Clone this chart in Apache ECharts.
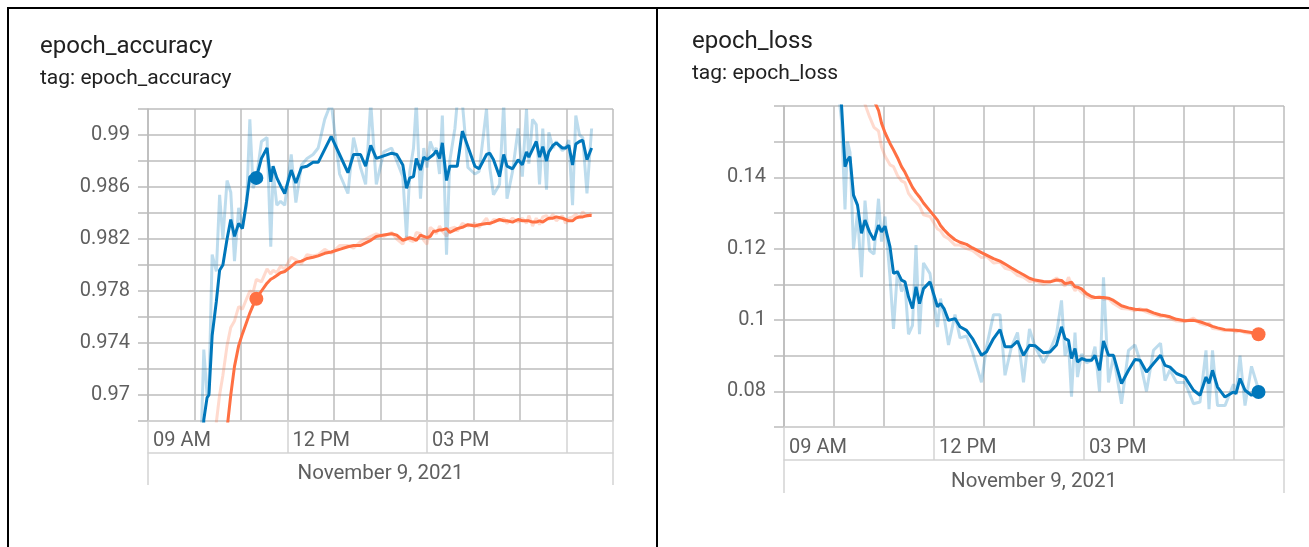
<!DOCTYPE html>
<html>
<head>
<meta charset="utf-8">
<script src="https://cdn.jsdelivr.net/npm/echarts@6/dist/echarts.min.js"></script>
<style>
  html, body { margin: 0; padding: 0; background: #fff; }
  #chart { width: 1309px; height: 547px; }
  .frame { position: absolute; background: #000; pointer-events: none; }
</style>
</head>
<body>
<div id="chart"></div>
<div class="frame" style="left:7px;top:7px;width:1302px;height:2px"></div>
<div class="frame" style="left:7px;top:7px;width:2px;height:540px"></div>
<div class="frame" style="left:656px;top:7px;width:2px;height:540px"></div>
<script>
// time of each epoch, hours of the day (Nov 9, 2021)
const accTimes = [10.09, 10.20, 10.27, 10.31, 10.38, 10.47, 10.54, 10.61, 10.70, 10.78,
  10.86, 10.95, 11.03, 11.12, 11.19, 11.26, 11.33, 11.44, 11.56, 11.64,
  11.69, 11.77, 11.85, 11.94, 12.08, 12.18, 12.30, 12.42, 12.55, 12.66,
  12.80, 12.94, 13.12, 13.30, 13.42, 13.57, 13.68, 13.79, 13.91, 14.07,
  14.24, 14.35, 14.48, 14.56, 14.63, 14.71, 14.77, 14.86, 14.93, 15.00,
  15.07, 15.14, 15.20, 15.27, 15.33, 15.42, 15.49, 15.60, 15.65, 15.76,
  15.88, 16.03, 16.12, 16.28, 16.35, 16.43, 16.56, 16.65, 16.72, 16.84,
  16.96, 17.05, 17.14, 17.19, 17.27, 17.35, 17.42, 17.49, 17.57, 17.62,
  17.71, 17.78, 17.91, 17.98, 18.05, 18.13, 18.20, 18.28, 18.35, 18.44, 18.54];

// validation run (blue)
const accValSmooth = [0.9550, 0.9681, 0.9698, 0.9700, 0.9746, 0.9772, 0.9796, 0.9800, 0.9820, 0.9835,
  0.9822, 0.9832, 0.9828, 0.9849, 0.9868, 0.9868, 0.9867, 0.9882, 0.9890, 0.9864,
  0.9876, 0.9867, 0.9861, 0.9855, 0.9873, 0.9863, 0.9875, 0.9876, 0.9879, 0.9879,
  0.9889, 0.9899, 0.9885, 0.9871, 0.9885, 0.9885, 0.9876, 0.9892, 0.9882, 0.9884,
  0.9886, 0.9885, 0.9877, 0.9859, 0.9867, 0.9868, 0.9882, 0.9873, 0.9883, 0.9881,
  0.9883, 0.9885, 0.9888, 0.9882, 0.9894, 0.9865, 0.9876, 0.9876, 0.9876, 0.9903,
  0.9891, 0.9876, 0.9874, 0.9885, 0.9886, 0.9881, 0.9868, 0.9885, 0.9876, 0.9874,
  0.9881, 0.9877, 0.9887, 0.9883, 0.9889, 0.9895, 0.9883, 0.9891, 0.9880, 0.9887,
  0.9892, 0.9894, 0.9890, 0.9890, 0.9892, 0.9877, 0.9893, 0.9895, 0.9896, 0.9881, 0.9890];
const accValRaw = [0.9600, 0.9735, 0.9700, 0.9702, 0.9808, 0.9795, 0.9854, 0.9820, 0.9865, 0.9856,
  0.9803, 0.9844, 0.9828, 0.9846, 0.9912, 0.9859, 0.9866, 0.9895, 0.9898, 0.9814,
  0.9872, 0.9846, 0.9849, 0.9846, 0.9885, 0.9848, 0.9877, 0.9882, 0.9885, 0.9890,
  0.9912, 0.9925, 0.9870, 0.9855, 0.9898, 0.9875, 0.9862, 0.9925, 0.9862, 0.9887,
  0.9890, 0.9880, 0.9868, 0.9821, 0.9872, 0.9890, 0.9925, 0.9851, 0.9890, 0.9875,
  0.9895, 0.9888, 0.9890, 0.9870, 0.9915, 0.9808, 0.9880, 0.9905, 0.9925, 0.9925,
  0.9875, 0.9870, 0.9872, 0.9920, 0.9875, 0.9854, 0.9862, 0.9925, 0.9851, 0.9872,
  0.9905, 0.9868, 0.9920, 0.9878, 0.9912, 0.9908, 0.9862, 0.9905, 0.9858, 0.9902,
  0.9890, 0.9895, 0.9888, 0.9890, 0.9896, 0.9846, 0.9915, 0.9900, 0.9898, 0.9855, 0.9905];

// train run (orange)
const accTrainSmooth = [0.9400, 0.9480, 0.9520, 0.9550, 0.9580, 0.9610, 0.9630, 0.9650, 0.9674, 0.9700,
  0.9722, 0.9738, 0.9747, 0.9756, 0.9763, 0.9769, 0.9774, 0.9780, 0.9786, 0.9789,
  0.9790, 0.9792, 0.9794, 0.9795, 0.9799, 0.9802, 0.9803, 0.9805, 0.9806, 0.9807,
  0.9809, 0.9810, 0.9812, 0.9814, 0.9815, 0.9815, 0.9817, 0.9819, 0.9822, 0.9823,
  0.9824, 0.9823, 0.9819, 0.9820, 0.9821, 0.9820, 0.9819, 0.9823, 0.9822, 0.9821,
  0.9822, 0.9826, 0.9826, 0.9827, 0.9827, 0.9828, 0.9825, 0.9827, 0.9828, 0.9829,
  0.9831, 0.9830, 0.9831, 0.9832, 0.9832, 0.9833, 0.9835, 0.9834, 0.9834, 0.9833,
  0.9835, 0.9834, 0.9834, 0.9834, 0.9833, 0.9833, 0.9834, 0.9833, 0.9835, 0.9836,
  0.9836, 0.9837, 0.9836, 0.9835, 0.9834, 0.9834, 0.9836, 0.9837, 0.9837, 0.9838, 0.9838];
const accTrainRaw = [0.9550, 0.9600, 0.9620, 0.9640, 0.9660, 0.9679, 0.9700, 0.9715, 0.9738, 0.9752,
  0.9757, 0.9768, 0.9766, 0.9774, 0.9780, 0.9779, 0.9789, 0.9787, 0.9797, 0.9793,
  0.9796, 0.9794, 0.9799, 0.9797, 0.9806, 0.9804, 0.9801, 0.9808, 0.9807, 0.9808,
  0.9812, 0.9809, 0.9815, 0.9815, 0.9813, 0.9818, 0.9820, 0.9822, 0.9824, 0.9822,
  0.9825, 0.9820, 0.9816, 0.9822, 0.9819, 0.9818, 0.9825, 0.9824, 0.9819, 0.9816,
  0.9829, 0.9827, 0.9824, 0.9830, 0.9826, 0.9822, 0.9828, 0.9829, 0.9826, 0.9832,
  0.9830, 0.9832, 0.9829, 0.9836, 0.9831, 0.9835, 0.9834, 0.9836, 0.9832, 0.9836,
  0.9833, 0.9836, 0.9832, 0.9838, 0.9830, 0.9836, 0.9831, 0.9837, 0.9838, 0.9835,
  0.9839, 0.9834, 0.9838, 0.9832, 0.9836, 0.9837, 0.9839, 0.9836, 0.9841, 0.9837, 0.9840];
const accDotIndex = 16;

const lossTimes = [10.04, 10.15, 10.22, 10.27, 10.32, 10.39, 10.47, 10.55, 10.62, 10.71,
  10.80, 10.89, 10.95, 11.02, 11.12, 11.19, 11.27, 11.35, 11.42, 11.49,
  11.57, 11.64, 11.71, 11.79, 11.92, 12.07, 12.13, 12.20, 12.29, 12.42,
  12.52, 12.65, 12.77, 12.95, 13.05, 13.19, 13.32, 13.42, 13.55, 13.67,
  13.79, 13.91, 14.02, 14.19, 14.32, 14.45, 14.55, 14.62, 14.69, 14.75,
  14.82, 14.87, 14.95, 15.05, 15.15, 15.22, 15.31, 15.39, 15.49, 15.59,
  15.75, 15.89, 16.02, 16.12, 16.25, 16.39, 16.53, 16.62, 16.72, 16.85,
  17.02, 17.19, 17.32, 17.44, 17.50, 17.57, 17.67, 17.82, 17.99, 18.04,
  18.12, 18.22, 18.35, 18.49];

const lossValSmooth = [0.1750, 0.1603, 0.1430, 0.1449, 0.1458, 0.1350, 0.1322, 0.1243, 0.1280, 0.1247,
  0.1224, 0.1266, 0.1247, 0.1263, 0.1205, 0.1131, 0.1135, 0.1112, 0.1107, 0.1065,
  0.1032, 0.1093, 0.1046, 0.1088, 0.1107, 0.1037, 0.1046, 0.1032, 0.0999, 0.1004,
  0.0981, 0.0971, 0.0948, 0.0901, 0.0911, 0.0948, 0.0973, 0.0925, 0.0925, 0.0941,
  0.0901, 0.0929, 0.0928, 0.0908, 0.0910, 0.0930, 0.0981, 0.0948, 0.0943, 0.0892,
  0.0920, 0.0882, 0.0892, 0.0887, 0.0887, 0.0901, 0.0859, 0.0941, 0.0901, 0.0901,
  0.0822, 0.0859, 0.0889, 0.0887, 0.0854, 0.0878, 0.0901, 0.0873, 0.0868, 0.0850,
  0.0840, 0.0803, 0.0789, 0.0840, 0.0822, 0.0859, 0.0812, 0.0784, 0.0798, 0.0794,
  0.0836, 0.0803, 0.0789, 0.0798];
const lossValRaw = [0.1700, 0.1560, 0.1310, 0.1500, 0.1470, 0.1200, 0.1300, 0.1120, 0.1335, 0.1195,
  0.1185, 0.1340, 0.1220, 0.1290, 0.1120, 0.0975, 0.1140, 0.1080, 0.1100, 0.0960,
  0.0985, 0.1210, 0.0960, 0.1160, 0.1130, 0.0980, 0.1060, 0.1010, 0.0930, 0.1015,
  0.0950, 0.0955, 0.0910, 0.0825, 0.0925, 0.1015, 0.1015, 0.0845, 0.0925, 0.0965,
  0.0825, 0.0975, 0.0925, 0.0880, 0.0915, 0.0960, 0.1055, 0.0900, 0.0935, 0.0785,
  0.0965, 0.0840, 0.0905, 0.0880, 0.0887, 0.0925, 0.0800, 0.1120, 0.0825, 0.0900,
  0.0765, 0.0915, 0.0930, 0.0885, 0.0800, 0.0915, 0.0935, 0.0830, 0.0860, 0.0825,
  0.0825, 0.0765, 0.0770, 0.0915, 0.0750, 0.0915, 0.0760, 0.0760, 0.0820, 0.0790,
  0.0900, 0.0760, 0.0870, 0.0805];

const lossTrainSmooth = [0.2300, 0.2150, 0.2050, 0.1990, 0.1930, 0.1860, 0.1790, 0.1730, 0.1690, 0.1650,
  0.1615, 0.1588, 0.1552, 0.1525, 0.1495, 0.1477, 0.1455, 0.1430, 0.1414, 0.1394,
  0.1372, 0.1357, 0.1345, 0.1328, 0.1306, 0.1280, 0.1265, 0.1253, 0.1240, 0.1225,
  0.1218, 0.1212, 0.1202, 0.1189, 0.1182, 0.1172, 0.1165, 0.1157, 0.1146, 0.1136,
  0.1127, 0.1117, 0.1112, 0.1108, 0.1107, 0.1112, 0.1111, 0.1102, 0.1104, 0.1106,
  0.1093, 0.1092, 0.1087, 0.1074, 0.1066, 0.1063, 0.1063, 0.1063, 0.1061, 0.1055,
  0.1040, 0.1034, 0.1030, 0.1029, 0.1028, 0.1020, 0.1014, 0.1012, 0.1009, 0.1002,
  0.0998, 0.0999, 0.0995, 0.0989, 0.0986, 0.0982, 0.0978, 0.0973, 0.0971, 0.0971,
  0.0970, 0.0968, 0.0965, 0.0960];
const lossTrainRaw = [0.2100, 0.1980, 0.1900, 0.1850, 0.1800, 0.1740, 0.1680, 0.1630, 0.1605, 0.1570,
  0.1540, 0.1530, 0.1485, 0.1460, 0.1435, 0.1430, 0.1405, 0.1390, 0.1385, 0.1355,
  0.1340, 0.1330, 0.1320, 0.1295, 0.1290, 0.1255, 0.1250, 0.1235, 0.1228, 0.1210,
  0.1210, 0.1200, 0.1195, 0.1175, 0.1178, 0.1160, 0.1162, 0.1145, 0.1140, 0.1125,
  0.1120, 0.1108, 0.1110, 0.1100, 0.1106, 0.1118, 0.1104, 0.1095, 0.1120, 0.1100,
  0.1082, 0.1090, 0.1078, 0.1066, 0.1060, 0.1062, 0.1066, 0.1058, 0.1060, 0.1046,
  0.1032, 0.1031, 0.1026, 0.1032, 0.1022, 0.1015, 0.1010, 0.1012, 0.1004, 0.0997,
  0.0996, 0.1005, 0.0990, 0.0985, 0.0992, 0.0976, 0.0975, 0.0970, 0.0973, 0.0966,
  0.0972, 0.0964, 0.0962, 0.0955];
const lossDotIndex = 83;

const hourLabels = { 9: "09 AM", 12: "12 PM", 15: "03 PM" };
const dateLabel = "November 9, 2021";

const BLUE = "#0077bb";
const ORANGE = "#ff7043";
const GRID_LINE = "#bcbcbc";
const BAND_LINE = "#d4d4d4";
const LABEL = "#5f5f5f";
const FONT = "Roboto";

function pairs(ts, vs) {
  return ts.map((t, i) => [t, vs[i]]);
}

function lineSeries(gi, data, color, raw) {
  return {
    type: "line",
    xAxisIndex: gi * 3,
    yAxisIndex: gi,
    data,
    symbol: "none",
    silent: true,
    z: raw ? 2 : 3,
    lineStyle: { color, width: 3, opacity: raw ? 0.26 : 1 },
  };
}

function dotSeries(gi, pt, color) {
  return {
    type: "scatter",
    xAxisIndex: gi * 3,
    yAxisIndex: gi,
    data: [pt],
    symbolSize: 14,
    silent: true,
    z: 5,
    itemStyle: { color, opacity: 1 },
  };
}

function xAxes(gi, bandH, labelMargin, nameGap) {
  const labelStyle = { color: LABEL, fontSize: 20, fontFamily: FONT };
  return [
    {
      gridIndex: gi, type: "value", position: "bottom", min: 9, max: 19, interval: 1,
      axisLine: { show: false }, axisTick: { show: false }, axisLabel: { show: false },
      splitLine: { show: true, lineStyle: { color: GRID_LINE, width: 1.5 } },
    },
    {
      gridIndex: gi, type: "value", position: "bottom", min: 9, max: 19, interval: 3,
      axisLine: { show: true, lineStyle: { color: BAND_LINE, width: 1.5 } },
      axisTick: { show: true, length: bandH, lineStyle: { color: BAND_LINE, width: 1.5 } },
      axisLabel: {
        ...labelStyle, align: "left", margin: labelMargin, padding: [0, 0, 0, 5],
        formatter: (v) => hourLabels[v] || "",
      },
      splitLine: { show: false },
    },
    {
      gridIndex: gi, type: "value", position: "bottom", min: 0, max: 10, interval: 10, offset: bandH,
      axisLine: { show: true, lineStyle: { color: BAND_LINE, width: 1.5 } },
      axisTick: { show: true, length: bandH, lineStyle: { color: BAND_LINE, width: 1.5 } },
      axisLabel: { show: false },
      splitLine: { show: false },
      name: dateLabel, nameLocation: "middle", nameGap,
      nameTextStyle: { ...labelStyle, fontSize: 20.5 },
    },
  ];
}

function yAxis(gi, min, max, interval, showLabel) {
  return {
    gridIndex: gi, type: "value", min, max, interval,
    axisLine: { show: true, lineStyle: { color: GRID_LINE, width: 1.5 } },
    axisTick: { show: true, length: 10, lineStyle: { color: GRID_LINE, width: 1.5 } },
    splitLine: { show: true, lineStyle: { color: GRID_LINE, width: 1.5 } },
    axisLabel: {
      color: LABEL, fontSize: 20, fontFamily: FONT, margin: 18,
      formatter: (v) => (showLabel(v) ? String(Number(v.toFixed(3))) : ""),
    },
  };
}

function titleText(text, left, top, size) {
  return {
    text, left, top, padding: 0,
    textStyle: { fontFamily: FONT, fontSize: size, fontWeight: "normal", color: "#212121" },
  };
}

const chart = echarts.init(document.getElementById("chart"));
chart.setOption({
  animation: false,
  title: [
    titleText("epoch_accuracy", 40, 35, 24),
    titleText("tag: epoch_accuracy", 40, 68, 21),
    titleText("epoch_loss", 692, 30, 24),
    titleText("tag: epoch_loss", 692, 63, 21),
  ],
  grid: [
    { left: 148, top: 109, width: 465, height: 312 },
    { left: 784, top: 106, width: 500, height: 321 },
  ],
  xAxis: [...xAxes(0, 32, 10, 10), ...xAxes(1, 33, 11, 11)],
  yAxis: [
    yAxis(0, 0.968, 0.992, 0.002, (v) => Math.round(v * 1000) % 4 === 2),
    yAxis(1, 0.07, 0.16, 0.01, (v) => {
      const k = Math.round(v * 100);
      return k % 2 === 0 && k < 16;
    }),
  ],
  series: [
    lineSeries(0, pairs(accTimes, accTrainRaw), ORANGE, true),
    lineSeries(0, pairs(accTimes, accValRaw), BLUE, true),
    lineSeries(0, pairs(accTimes, accTrainSmooth), ORANGE, false),
    lineSeries(0, pairs(accTimes, accValSmooth), BLUE, false),
    dotSeries(0, [accTimes[accDotIndex], accTrainSmooth[accDotIndex]], ORANGE),
    dotSeries(0, [accTimes[accDotIndex], accValSmooth[accDotIndex]], BLUE),
    lineSeries(1, pairs(lossTimes, lossTrainRaw), ORANGE, true),
    lineSeries(1, pairs(lossTimes, lossValRaw), BLUE, true),
    lineSeries(1, pairs(lossTimes, lossTrainSmooth), ORANGE, false),
    lineSeries(1, pairs(lossTimes, lossValSmooth), BLUE, false),
    dotSeries(1, [lossTimes[lossDotIndex], lossTrainSmooth[lossDotIndex]], ORANGE),
    dotSeries(1, [lossTimes[lossDotIndex], lossValSmooth[lossDotIndex]], BLUE),
  ],
});
</script>
</body>
</html>
